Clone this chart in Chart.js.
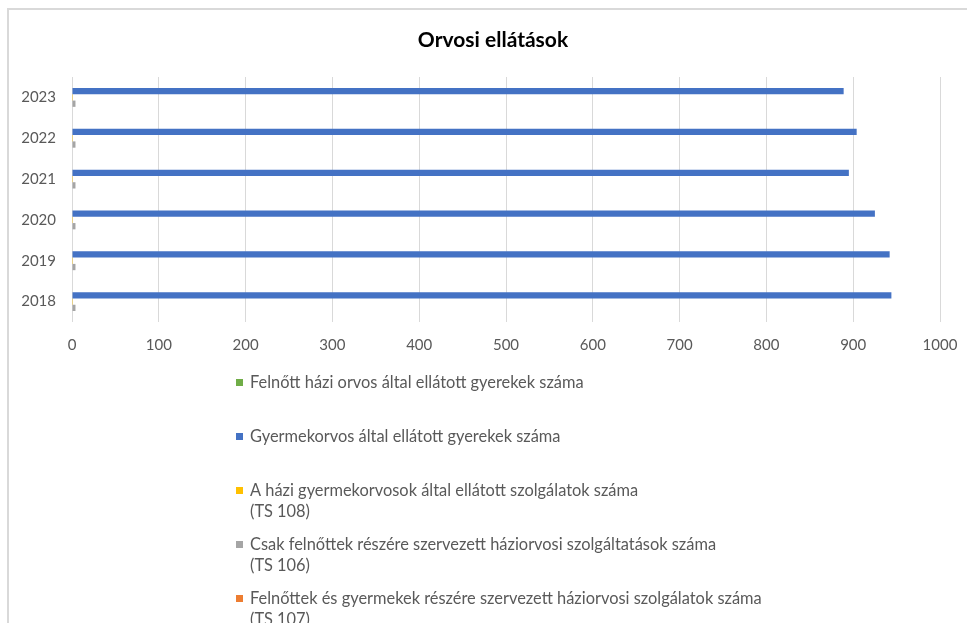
<!DOCTYPE html>
<html>
<head>
<meta charset="utf-8">
<title>Orvosi ellátások</title>
<script src="https://cdn.jsdelivr.net/npm/chart.js@4.4.1/dist/chart.umd.min.js"></script>
<style>
  html, body { margin: 0; padding: 0; background: #fff; overflow: hidden; }
  #frame {
    position: absolute; left: 7px; top: 8px; width: 1000px; height: 700px;
    border-left: 2px solid #d9d9d9; border-top: 2px solid #d9d9d9;
  }
  #wrap { position: absolute; left: 0; top: 0; width: 967px; height: 623px; }
</style>
</head>
<body>
<div id="frame"></div>
<div id="wrap"><canvas id="chart"></canvas></div>
<script>
// Data
const years = ['2018', '2019', '2020', '2021', '2022', '2023'];

const felnottOrvosGyerekek = [0, 0, 0, 0, 0, 0];
const gyermekorvosGyerekek = [944, 942, 925, 895, 904, 889];
const ts108Szolgalatok = [1, 1, 1, 1, 1, 1];
const ts106Szolgalatok = [4, 4, 4, 4, 4, 4];
const ts107Szolgalatok = [0, 0, 0, 0, 0, 0];

const chartTitle = 'Orvosi ellátások';

// Legend labels, one entry per line
const seriesLabels = [
    ['Felnőtt házi orvos által ellátott gyerekek száma'],
    ['Gyermekorvos által ellátott gyerekek száma'],
    ['A házi gyermekorvosok által ellátott szolgálatok száma', '(TS 108)'],
    ['Csak felnőttek részére szervezett háziorvosi szolgáltatások száma', '(TS 106)'],
    ['Felnőttek és gyermekek részére szervezett háziorvosi szolgálatok száma', '(TS 107)']
];
const seriesColors = ['#70AD47', '#4472C4', '#FFC000', '#A5A5A5', '#ED7D31'];

const axisMin = 0;
const axisMax = 1000;
const axisStep = 100;

const FONT = 'Lato, "Open Sans", sans-serif';
const TEXT_GREY = '#595959';

// Title and vertical legend, placed like in the original (the chart frame
// is wider than the window, so the title sits right of the canvas centre)
const frameDecor = {
    id: 'frameDecor',
    afterDraw(chart) {
        const ctx = chart.ctx;
        ctx.save();

        ctx.font = 'bold 21px ' + FONT;
        ctx.fillStyle = '#000000';
        ctx.textAlign = 'center';
        ctx.textBaseline = 'middle';
        ctx.fillText(chartTitle, 493, 40);

        const boxX = 236;
        const textX = 250;
        const itemStep = 54;
        const lineStep = 21;
        let y = 383;

        ctx.font = '16.4px ' + FONT;
        ctx.textAlign = 'left';
        chart.data.datasets.forEach((ds, i) => {
            ctx.fillStyle = ds.backgroundColor;
            ctx.fillRect(boxX, y - 4, 7, 7);
            ctx.fillStyle = TEXT_GREY;
            seriesLabels[i].forEach((line, k) => {
                ctx.fillText(line, textX, y + k * lineStep);
            });
            y += itemStep;
        });
        ctx.restore();
    }
};

const datasets = [
    felnottOrvosGyerekek,
    gyermekorvosGyerekek,
    ts108Szolgalatok,
    ts106Szolgalatok,
    ts107Szolgalatok
].map((values, i) => ({
    label: seriesLabels[i].join(' '),
    data: values,
    backgroundColor: seriesColors[i],
    borderWidth: 0,
    categoryPercentage: 0.77,
    barPercentage: 1.0
}));

new Chart(document.getElementById('chart'), {
    type: 'bar',
    data: {
        labels: years,
        datasets: datasets
    },
    options: {
        indexAxis: 'y',
        responsive: true,
        maintainAspectRatio: false,
        animation: false,
        layout: {
            padding: { left: 0, right: 27, top: 77, bottom: 261 }
        },
        plugins: {
            legend: { display: false },
            tooltip: { enabled: false },
            title: { display: false }
        },
        scales: {
            x: {
                min: axisMin,
                max: axisMax,
                ticks: {
                    stepSize: axisStep,
                    color: TEXT_GREY,
                    font: { family: FONT, size: 15 },
                    padding: 14,
                    maxRotation: 0,
                    callback: (value) => String(value)
                },
                grid: { color: '#d9d9d9', lineWidth: 1, drawTicks: false },
                border: { display: false },
                afterFit(scale) {
                    scale.height = 40;
                    scale.paddingLeft = 0;
                    scale.paddingRight = 0;
                }
            },
            y: {
                reverse: true,
                ticks: {
                    color: TEXT_GREY,
                    font: { family: FONT, size: 15 },
                    padding: 16
                },
                grid: { display: false, drawTicks: false },
                border: { display: false },
                afterFit(scale) {
                    scale.width = 72;
                    scale.paddingTop = 0;
                    scale.paddingBottom = 0;
                }
            }
        }
    },
    plugins: [frameDecor]
});
</script>
</body>
</html>
